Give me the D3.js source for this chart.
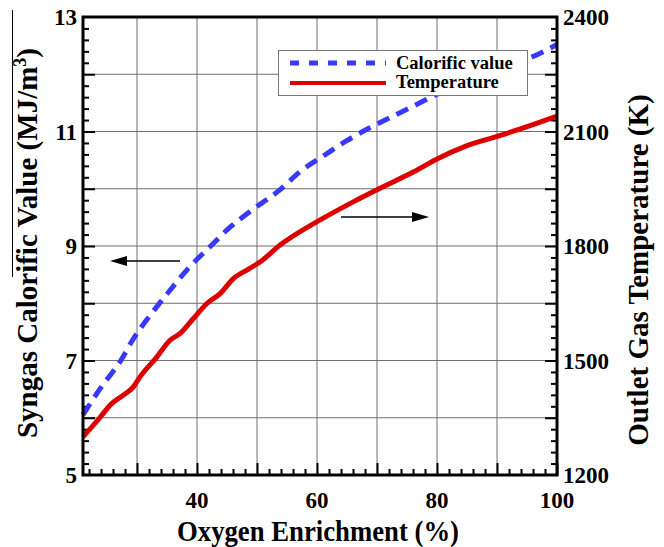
<!DOCTYPE html>
<html><head><meta charset="utf-8">
<script src="https://cdn.jsdelivr.net/npm/d3@7"></script>
<style>body{margin:0;background:#fff}svg{display:block}</style>
</head><body>
<svg id="chart" width="664" height="547"></svg>
<script>
const oxygenCal = [21, 23.8, 27.3, 29.4, 32.2, 35.3, 38.3, 42.2, 45, 48.8, 53.8, 57.2, 61.3, 64.8, 68.7, 73.1, 76, 79.8, 85, 90, 96, 100];
const calorific = [6.05, 6.5, 7.0, 7.38, 7.79, 8.2, 8.58, 8.99, 9.28, 9.6, 9.98, 10.3, 10.59, 10.83, 11.06, 11.29, 11.44, 11.64, 11.88, 12.1, 12.31, 12.52];
const oxygenTemp = [21, 23.9, 25.5, 27.7, 29.4, 30.5, 33.3, 35.5, 37.2, 39.4, 41.7, 43.9, 46.1, 48.3, 50.5, 53.9, 60.6, 66.2, 70.6, 76.2, 80, 84.7, 90, 96, 100];
const temperature = [1300, 1352, 1383, 1409, 1431, 1457, 1509, 1553, 1571, 1610, 1650, 1676, 1715, 1737, 1758, 1803, 1869, 1917, 1952, 1995, 2028, 2061, 2087, 2118, 2140];
const xTickLabels = [40, 60, 80, 100];
const yLeftLabels = [5, 7, 9, 11, 13];
const yRightLabels = [1200, 1500, 1800, 2100, 2400];
const legendLabels = ["Calorific value", "Temperature"];

const svg = d3.select("#chart");
const L = 83, R = 557, T = 17, B = 475;
const x = d3.scaleLinear().domain([21, 100]).range([L, R]);
const yL = d3.scaleLinear().domain([5, 13]).range([B, T]);
const yR = d3.scaleLinear().domain([1200, 2400]).range([B, T]);
const font = "'Liberation Serif','Times New Roman',serif";

// artifact line at left
svg.append("line").attr("x1", 12.5).attr("x2", 12.5).attr("y1", 10).attr("y2", 277).attr("stroke", "#000").attr("stroke-width", 1);

// grid
const g = svg.append("g");
g.selectAll(".vg").data(d3.range(30, 100, 10)).join("line")
  .attr("x1", d => x(d)).attr("x2", d => x(d)).attr("y1", T).attr("y2", B)
  .attr("stroke", "#6f6f6f").attr("stroke-width", 1);
g.selectAll(".hg").data(d3.range(6, 13, 1)).join("line")
  .attr("x1", L).attr("x2", R).attr("y1", d => yL(d)).attr("y2", d => yL(d))
  .attr("stroke", "#6f6f6f").attr("stroke-width", 1);

// ticks via axes
const xMinor = d3.range(22, 100, 2).filter(d => d % 10 !== 0);
const xMajor = d3.range(30, 101, 10);
function ticksX(vals, len) {
  svg.append("g").attr("transform", `translate(0,${B})`)
    .call(d3.axisBottom(x).tickValues(vals).tickSizeInner(-len).tickSizeOuter(0).tickFormat(""))
    .call(s => s.select(".domain").remove())
    .call(s => s.selectAll("line").attr("stroke", "#000").attr("stroke-width", 2));
}
ticksX(xMinor, 6); ticksX(xMajor, 12);
const yMinor = d3.range(5.2, 13, 0.2).filter(d => Math.abs(d - Math.round(d)) > 0.01);
const yMajor = d3.range(6, 13, 1);
function ticksY(vals, len) {
  svg.append("g").attr("transform", `translate(${L},0)`)
    .call(d3.axisLeft(yL).tickValues(vals).tickSizeInner(-len).tickSizeOuter(0).tickFormat(""))
    .call(s => s.select(".domain").remove())
    .call(s => s.selectAll("line").attr("stroke", "#000").attr("stroke-width", 2));
  svg.append("g").attr("transform", `translate(${R},0)`)
    .call(d3.axisRight(yL).tickValues(vals).tickSizeInner(-len).tickSizeOuter(0).tickFormat(""))
    .call(s => s.select(".domain").remove())
    .call(s => s.selectAll("line").attr("stroke", "#000").attr("stroke-width", 2));
}
ticksY(yMinor, 6); ticksY(yMajor, 12);

// lines
const lineCal = d3.line().x((d, i) => x(oxygenCal[i])).y(d => yL(d)).curve(d3.curveMonotoneX);
const lineTemp = d3.line().x((d, i) => x(oxygenTemp[i])).y(d => yR(d)).curve(d3.curveMonotoneX);
svg.append("path").attr("d", lineTemp(temperature)).attr("fill", "none")
  .attr("stroke", "#dd0000").attr("stroke-width", 5);
svg.append("path").attr("d", lineCal(calorific)).attr("fill", "none")
  .attr("stroke", "#3838ff").attr("stroke-width", 5).attr("stroke-dasharray", "13,8");

// frame
svg.append("rect").attr("x", L).attr("y", T).attr("width", R - L).attr("height", B - T)
  .attr("fill", "none").attr("stroke", "#000").attr("stroke-width", 3);

// tick labels
svg.append("g").selectAll("text").data(yLeftLabels).join("text")
  .attr("x", 77).attr("y", d => yL(d)).attr("dy", "0.36em").attr("text-anchor", "end")
  .attr("font-family", font).attr("font-weight", "bold").attr("font-size", 23).text(d => d);
svg.append("g").selectAll("text").data(yRightLabels).join("text")
  .attr("x", 563).attr("y", d => yR(d)).attr("dy", "0.36em").attr("text-anchor", "start")
  .attr("font-family", font).attr("font-weight", "bold").attr("font-size", 23).text(d => d);
svg.append("g").selectAll("text").data(xTickLabels).join("text")
  .attr("x", d => x(d)).attr("y", 508).attr("text-anchor", "middle")
  .attr("font-family", font).attr("font-weight", "bold").attr("font-size", 23).text(d => d);

// axis titles
svg.append("text").attr("x", 318).attr("y", 541).attr("text-anchor", "middle")
  .attr("font-family", font).attr("font-weight", "bold").attr("font-size", 29)
  .attr("textLength", 282).attr("lengthAdjust", "spacingAndGlyphs")
  .text("Oxygen Enrichment (%)");
const yt = svg.append("text").attr("transform", "translate(37,243) rotate(-90)").attr("text-anchor", "middle")
  .attr("font-family", font).attr("font-weight", "bold").attr("font-size", 29);
yt.append("tspan").text("Syngas Calorific Value (MJ/m");
yt.append("tspan").attr("font-size", 18).attr("dy", -11).text("3");
yt.append("tspan").attr("dy", 11).text(")");
svg.append("text").attr("transform", "translate(648,270) rotate(-90)").attr("text-anchor", "middle")
  .attr("font-family", font).attr("font-weight", "bold").attr("font-size", 29)
  .text("Outlet Gas Temperature (K)");

// legend
const lg = svg.append("g");
lg.append("rect").attr("x", 278.5).attr("y", 50.5).attr("width", 249).attr("height", 45)
  .attr("fill", "#fff").attr("stroke", "#777").attr("stroke-width", 1);
lg.append("line").attr("x1", 290).attr("x2", 386).attr("y1", 63).attr("y2", 63)
  .attr("stroke", "#3838ff").attr("stroke-width", 5).attr("stroke-dasharray", "9,10");
lg.append("line").attr("x1", 290).attr("x2", 386).attr("y1", 83).attr("y2", 83)
  .attr("stroke", "#dd0000").attr("stroke-width", 4);
lg.selectAll("text").data(legendLabels).join("text")
  .attr("x", 396).attr("y", (d, i) => 69 + i * 19)
  .attr("font-family", font).attr("font-weight", "bold").attr("font-size", 18.5).text(d => d);

// arrows
function arrow(x1, x2, y) {
  const dir = Math.sign(x2 - x1);
  svg.append("line").attr("x1", x1).attr("x2", x2 - dir * 14).attr("y1", y).attr("y2", y)
    .attr("stroke", "#000").attr("stroke-width", 1.5);
  svg.append("path").attr("d", `M${x2},${y} L${x2 - dir * 17},${y - 5} L${x2 - dir * 17},${y + 5} Z`).attr("fill", "#000");
}
arrow(180, 110, 261);
arrow(341, 429, 217);
</script>
</body></html>
